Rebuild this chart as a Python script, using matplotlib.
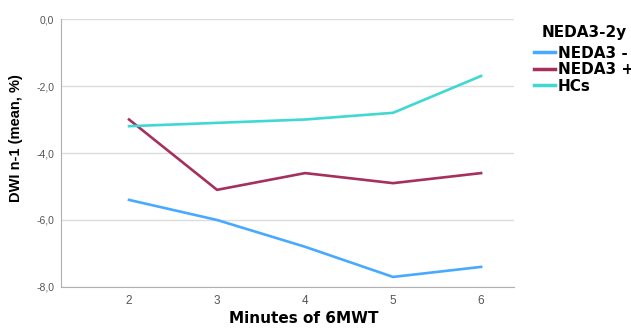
import matplotlib.pyplot as plt
from matplotlib.ticker import FuncFormatter

plt.rcParams['font.family'] = ['Liberation Sans', 'DejaVu Sans']

minutes = [2, 3, 4, 5, 6]
neda_neg = [-5.4, -6.0, -6.8, -7.7, -7.4]
neda_pos = [-3.0, -5.1, -4.6, -4.9, -4.6]
hcs = [-3.2, -3.1, -3.0, -2.8, -1.7]

series = [
    ('NEDA3 -', neda_neg, '#48aaff'),
    ('NEDA3 +', neda_pos, '#a6305c'),
    ('HCs', hcs, '#3fd8d2'),
]

fig = plt.figure(figsize=(6.31, 3.29), dpi=100)
ax = fig.add_axes([0.0967, 0.1277, 0.718, 0.8145])

for label, vals, color in series:
    ax.plot(minutes, vals, color=color, lw=1.9, label=label)

ax.set_xlim(1.227, 6.375)
ax.set_ylim(-8.0, 0.0)
ax.set_xticks(minutes)
ax.set_yticks([-8, -6, -4, -2, 0])
ax.yaxis.set_major_formatter(FuncFormatter(lambda v, p: f'{v:.1f}'.replace('.', ',')))
ax.grid(axis='y', color='#dcdcdc', lw=1)
ax.set_axisbelow(True)
for s in ['top', 'right']:
    ax.spines[s].set_visible(False)
for s in ['left', 'bottom']:
    ax.spines[s].set_color('#b0b0b0')
ax.tick_params(length=0, colors='#555555')
ax.tick_params(axis='x', labelsize=8.5, pad=6)
ax.tick_params(axis='y', labelsize=7.5, pad=5)

bold = ['DejaVu Sans']
ax.set_xlabel('Minutes of 6MWT', fontsize=11, fontweight='bold', family=bold)
ax.xaxis.set_label_coords(0.536, -0.09)
ax.set_ylabel('DWI n-1 (mean, %)', fontsize=10.5, fontweight='bold')
ax.yaxis.set_label_coords(-0.085, 0.556)

fig.text(0.859, 0.9, 'NEDA3-2y', fontsize=11, fontweight='bold', family=bold, va='center')
leg = ax.legend(loc='upper left', bbox_to_anchor=(0.846, 0.861), bbox_transform=fig.transFigure,
                frameon=False, handlelength=1.37, handletextpad=0.2, borderpad=0,
                labelspacing=0.1, borderaxespad=0,
                prop={'weight': 'bold', 'size': 11, 'family': bold})
for h in leg.get_lines():
    h.set_linewidth(2.5)

fig.savefig('out.png', dpi=100)
